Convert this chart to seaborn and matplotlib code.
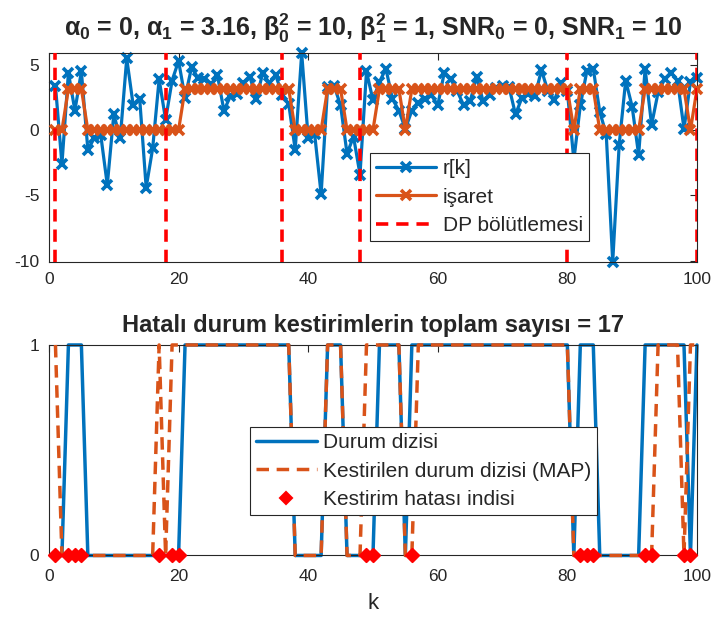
import matplotlib
matplotlib.use("Agg")
import matplotlib.pyplot as plt
from matplotlib.lines import Line2D
import pandas as pd
import seaborn as sns

# ---------------- data ----------------
k = list(range(1, 101))
r_k = [3.4, -2.6, 4.4, 1.5, 4.5, -1.5, -0.6, -0.4, -4.2, 1.2,
       -0.6, 5.5, 1.9, 2.4, -4.4, -1.4, 3.9, 0.8, 3.8, 5.3,
       2.5, 4.8, 4.0, 3.9, 3.5, 4.2, 1.5, 2.6, 2.8, 3.6,
       4.1, 2.4, 4.4, 3.6, 4.2, 2.7, 2.0, -1.5, 5.9, -0.6,
       -0.3, -4.9, 3.3, 3.4, 1.9, -1.8, -0.5, -3.4, 4.5, 2.3,
       3.7, 4.7, 2.4, 1.5, 0.1, 1.5, 2.1, 2.4, 2.7, 1.9,
       4.4, 3.9, 3.0, 1.9, 2.2, 4.1, 2.2, 2.7, 3.2, 3.4,
       3.3, 1.2, 2.5, 2.8, 2.6, 4.6, 3.0, 2.3, 3.6, 3.0,
       -2.3, 1.9, 4.5, 4.7, 1.4, -0.3, -10.1, -1.1, 3.8, 1.8,
       -1.9, 4.7, 0.4, 2.9, 3.9, 4.4, 3.8, 0.1, 3.7, 4.0]

true_state = [0, 0, 1, 1, 1, 0, 0, 0, 0, 0, 0, 0, 0, 0, 0, 0, 0, 0, 0, 0,
              1, 1, 1, 1, 1, 1, 1, 1, 1, 1, 1, 1, 1, 1, 1, 1, 1, 0, 0, 0,
              0, 0, 1, 1, 1, 0, 0, 0, 0, 0, 1, 1, 1, 1, 0, 1, 1, 1, 1, 1,
              1, 1, 1, 1, 1, 1, 1, 1, 1, 1, 1, 1, 1, 1, 1, 1, 1, 1, 1, 1,
              0, 1, 1, 1, 0, 0, 0, 0, 0, 0, 0, 1, 1, 1, 1, 1, 1, 1, 0, 1]

est_state = [1, 0, 0, 0, 0, 0, 0, 0, 0, 0, 0, 0, 0, 0, 0, 0, 1, 0, 1, 1,
             1, 1, 1, 1, 1, 1, 1, 1, 1, 1, 1, 1, 1, 1, 1, 1, 1, 0, 0, 0,
             0, 0, 1, 1, 1, 0, 0, 0, 1, 1, 1, 1, 1, 1, 0, 0, 1, 1, 1, 1,
             1, 1, 1, 1, 1, 1, 1, 1, 1, 1, 1, 1, 1, 1, 1, 1, 1, 1, 1, 1,
             0, 0, 0, 0, 0, 0, 0, 0, 0, 0, 0, 0, 0, 1, 1, 1, 1, 0, 1, 1]

alpha = [0.0, 3.16]
signal = [alpha[s] for s in true_state]

dp_bounds = [1, 18, 36, 48, 80, 100]
err_idx = [1, 3, 4, 5, 17, 19, 20, 49, 50, 56, 82, 83, 84, 92, 93, 98, 99]
err_val = [0] * len(err_idx)

xticks = [0, 20, 40, 60, 80, 100]
yticks_top = [-10, -5, 0, 5]
yticks_bot = [0, 1]

title_top = (r'$α_0$ = 0, $α_1$ = 3.16, $β_0^2$ = 10, $β_1^2$ = 1, '
             r'SNR$_0$ = 0, SNR$_1$ = 10')
title_bot = 'Hatalı durum kestirimlerin toplam sayısı = 17'
leg_top = ['r[k]', 'işaret', 'DP bölütlemesi']
leg_bot = ['Durum dizisi', 'Kestirilen durum dizisi (MAP)', 'Kestirim hatası indisi']

# ---------------- style ----------------
sns.set_style("white")
plt.rcParams['font.family'] = ['Liberation Sans', 'DejaVu Sans']
plt.rcParams['mathtext.default'] = 'regular'
plt.rcParams['axes.unicode_minus'] = False

BLUE = '#0072BD'
ORANGE = '#D95319'
RED = '#FF0000'
AXC = '#262626'

fig = plt.figure(figsize=(7.16, 6.31), dpi=100)
ax1 = fig.add_axes([0.0684, 0.5848, 0.905, 0.331])
ax2 = fig.add_axes([0.0684, 0.1197, 0.905, 0.3336])

df1 = pd.DataFrame({'k': k, 'r': r_k, 'sig': signal})
df2 = pd.DataFrame({'k': k, 'true': true_state, 'est': est_state})
df3 = pd.DataFrame({'k': err_idx, 'v': err_val})

# ---- top panel ----
sns.lineplot(data=df1, x='k', y='r', ax=ax1, color=BLUE, lw=2.3,
             marker='x', markersize=6.5, markeredgewidth=2.6,
             markeredgecolor=BLUE, clip_on=False, legend=False, zorder=2)
sns.lineplot(data=df1, x='k', y='sig', ax=ax1, color=ORANGE, lw=2.3,
             marker='x', markersize=6.5, markeredgewidth=2.6,
             markeredgecolor=ORANGE, clip_on=False, legend=False, zorder=3)
for b in dp_bounds:
    ax1.axvline(b, color=RED, lw=2.6, ls=(0, (3.4, 2.2)), zorder=4)

ax1.set_xlim(0, 100)
ax1.set_ylim(min(r_k), max(r_k))
ax1.set_xticks(xticks)
ax1.set_yticks(yticks_top)
ax1.set_xlabel('')
ax1.set_ylabel('')
ax1.set_title(title_top, fontsize=18, fontweight='bold', pad=12)

h1 = [Line2D([], [], color=BLUE, lw=2.3, marker='x', ms=6.5, mew=2.6),
      Line2D([], [], color=ORANGE, lw=2.3, marker='x', ms=6.5, mew=2.6),
      Line2D([], [], color=RED, lw=2.6, ls=(0, (3.4, 2.2)))]
lg1 = ax1.legend(h1, leg_top, loc='upper left', bbox_to_anchor=(0.495, 0.5215),
                 fontsize=15, frameon=True, fancybox=False, edgecolor=AXC,
                 framealpha=1, handlelength=2.9, borderpad=0.3,
                 labelspacing=0.45, handletextpad=0.3, borderaxespad=0)
lg1.get_frame().set_linewidth(0.8)
lg1.set_zorder(10)

# ---- bottom panel ----
sns.lineplot(data=df2, x='k', y='true', ax=ax2, color=BLUE, lw=2.5,
             clip_on=False, legend=False, zorder=2)
sns.lineplot(data=df2, x='k', y='est', ax=ax2, color=ORANGE, lw=2.5,
             linestyle=(0, (3.6, 2.2)), clip_on=False, legend=False, zorder=3)
sns.scatterplot(data=df3, x='k', y='v', ax=ax2, color=RED, marker='D',
                s=45, edgecolor=RED, linewidth=1.5, clip_on=False,
                legend=False, zorder=5)

ax2.set_xlim(0, 100)
ax2.set_ylim(0, 1)
ax2.set_xticks(xticks)
ax2.set_yticks(yticks_bot)
ax2.set_ylabel('')
ax2.set_xlabel('k', fontsize=16, color=AXC, labelpad=6)
ax2.set_title(title_bot, fontsize=17, fontweight='bold', pad=9)

h2 = [Line2D([], [], color=BLUE, lw=2.5),
      Line2D([], [], color=ORANGE, lw=2.5, ls=(0, (3.6, 2.2))),
      Line2D([], [], color=RED, ls='none', marker='D', ms=6.5, mec=RED, mew=1.5)]
lg2 = ax2.legend(h2, leg_bot, loc='upper left', bbox_to_anchor=(0.31, 0.61),
                 fontsize=15, frameon=True, fancybox=False, edgecolor=AXC,
                 framealpha=1, handlelength=2.9, borderpad=0.3,
                 labelspacing=0.45, handletextpad=0.3, borderaxespad=0)
lg2.get_frame().set_linewidth(0.8)
lg2.set_zorder(10)

for ax in (ax1, ax2):
    ax.tick_params(direction='in', length=5, width=0.8, top=True, right=True,
                   labelsize=12.5, colors=AXC, pad=7)
    for s in ax.spines.values():
        s.set_color(AXC)
        s.set_linewidth(0.8)
        s.set_visible(True)
ax2.tick_params(axis='x', pad=10)

fig.savefig('out.png', dpi=100)
